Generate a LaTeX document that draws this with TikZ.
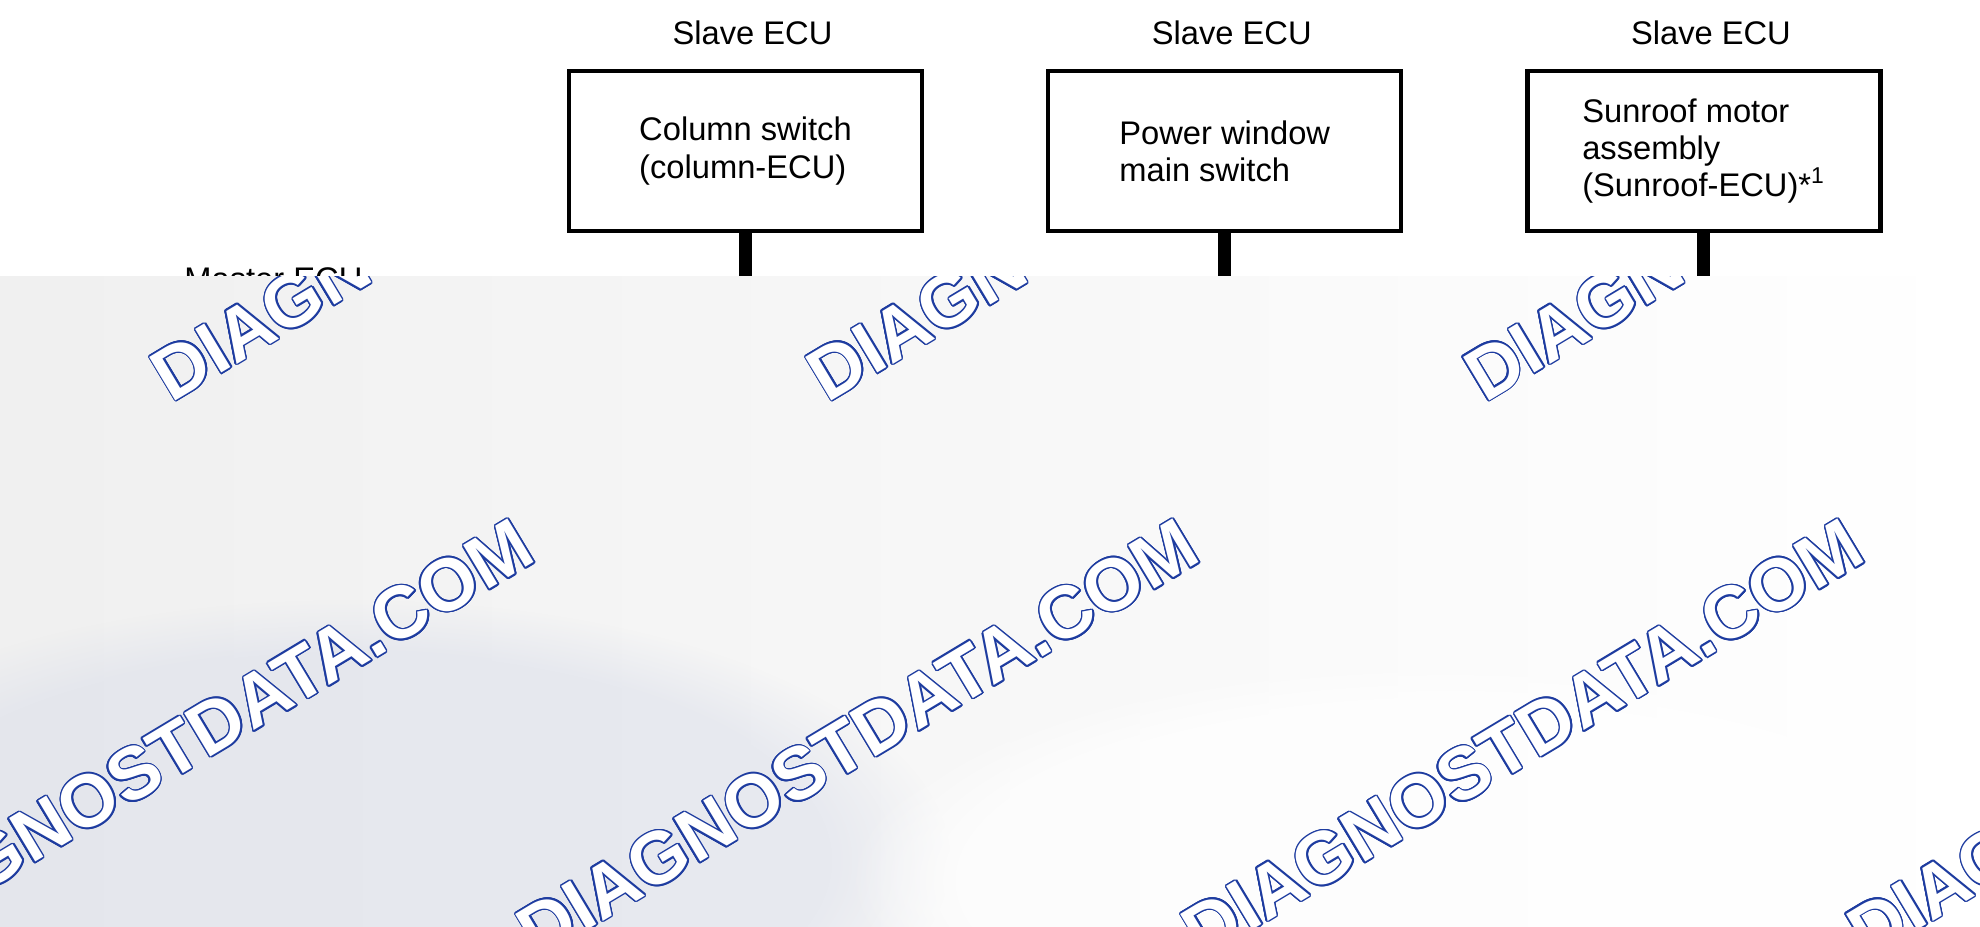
\documentclass[tikz,border=0pt]{standalone}
\usepackage{fontspec}
\setmainfont{Liberation Sans}
\usepackage[copies]{contour}
\contourlength{0.45pt}
\usetikzlibrary{positioning, fadings}
\definecolor{wmblue}{RGB}{30,60,160}
\definecolor{coverblue}{RGB}{218,222,234}

\begin{document}
\begin{tikzpicture}[ecu/.style={draw, line width=1.2pt, minimum width=3.53cm, minimum height=1.6cm, align=left, font=\fontsize{9.3}{10.6}\selectfont},
		lbl/.style={font=\fontsize{9.3}{10.6}\selectfont},
		bus/.style={line width=3.7pt},
		wm/.style={rotate=31, text=white, font=\fontsize{21}{21}\selectfont\bfseries}]
		\useasboundingbox (0,0) rectangle (19.8,-9.26);

		\node[ecu] (col) at (7.455,-1.51) {Column switch\\(column-ECU)};
		\node[ecu, right=1.22cm of col] (pwr) {Power window\\main switch};
		\node[ecu, right=1.22cm of pwr] (sun) {Sunroof motor\\assembly\\(Sunroof-ECU)*\textsuperscript{1}};

		\node[lbl, above=0.12cm of col, xshift=0.07cm] (colL) {Slave ECU};
		\node[lbl, above=0.12cm of pwr, xshift=0.07cm] (pwrL) {Slave ECU};
		\node[lbl, above=0.12cm of sun, xshift=0.07cm] (sunL) {Slave ECU};

		\node[lbl, anchor=base west] (mst) at (1.72,-2.90) {Master ECU};

		\coordinate[below=1cm of col] (colB);
		\coordinate[below=1cm of pwr] (pwrB);
		\coordinate[below=1cm of sun] (sunB);
		\draw[bus] (col) -- (colB);
		\draw[bus] (pwr) -- (pwrB);
		\draw[bus] (sun) -- (sunB);

		% cover
		\shade[left color=gray!12, middle color=gray!24, right color=white] (0,-2.76) rectangle (19.8,-9.26);
		\begin{scope}
			\clip (0,-2.76) rectangle (19.8,-9.26);
			\fill[coverblue, fill opacity=0.5, path fading=circle with fuzzy edge 20 percent] (3.5,-8.6) ellipse (6 and 2.6);
			\fill[white, fill opacity=0.7, path fading=circle with fuzzy edge 20 percent] (14.5,-8.8) ellipse (6 and 2.2);
			\foreach \x/\y in {4.92/-1.82, 11.48/-1.82, 18.05/-1.82, 1.93/-7.39, 8.58/-7.39, 15.23/-7.39, 21.88/-7.39}
				\node[wm] at (\x,\y) {\contour{wmblue}{DIAGNOSTDATA.COM}};
		\end{scope}
	\end{tikzpicture}
\end{document}
